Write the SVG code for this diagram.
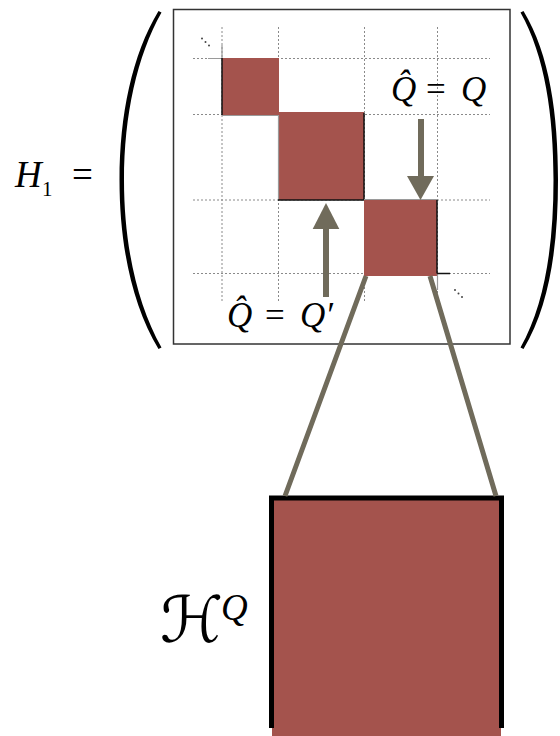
<svg xmlns="http://www.w3.org/2000/svg" width="560" height="736" viewBox="0 0 560 736">
<style>
.grid{stroke:#8a8a8a;stroke-width:1;stroke-dasharray:2,2;fill:none}
.blk{fill:#a4534d}
.edge{stroke:#111;stroke-width:1.5;fill:none}
.gedge{stroke:#9a9a9a;stroke-width:1.2;fill:none}
.conn{stroke:#706b5b;stroke-width:5;fill:none}
.ahead{fill:#706b5b}
.math{font-family:"Liberation Serif","Times New Roman",serif;font-style:italic;fill:#000}
.rm{font-family:"Liberation Serif","Times New Roman",serif;font-style:normal;fill:#000}
.paren{fill:#000}
.dot{fill:#444}
</style>
<rect width="560" height="736" fill="#fff"/>
<g id="H1-label">
<text class="math" x="15" y="187" font-size="37">H<tspan class="rm" x="42" y="196" font-size="21">1</tspan><tspan class="rm" x="72" y="187">=</tspan></text>
</g>
<g id="parentheses">
<path class="paren" d="M158.5,11 C132,55 119.5,115 119.5,180 C119.5,245 132,305 158.5,349 L161.5,347.5 C137,304 124,245 124,180 C124,115 137,56 161.5,12.5 Z"/>
<path class="paren" d="M520.5,12.5 C545,56 553.5,115 553.5,180 C553.5,245 545,304 520.5,347.5 L523.5,349 C550,305 558,245 558,180 C558,115 550,55 523.5,11 Z"/>
</g>
<g id="matrix">
<rect x="173.5" y="9.5" width="336.5" height="334.5" fill="none" stroke="#333" stroke-width="1.5"/>
<path class="grid" d="M222,27V302 M278.5,27V302 M364.5,27V302 M437.5,27V302 M193,58.5H490 M193,114.5H490 M193,200H490 M193,273.5H490"/>
<circle class="dot" cx="202" cy="38.5" r="1"/><circle class="dot" cx="205.5" cy="42" r="1"/><circle class="dot" cx="209" cy="45.5" r="1"/>
<circle class="dot" cx="455" cy="290" r="1"/><circle class="dot" cx="458.5" cy="293.5" r="1"/><circle class="dot" cx="462" cy="297" r="1"/>
</g>
<g id="block1">
<rect class="blk" x="222" y="58" width="57" height="57"/>
<path class="gedge" d="M222,45V58 M208,58.5H222 M222,115.5H279"/>
<path class="edge" d="M222,58V115"/>
</g>
<g id="block2">
<rect class="blk" x="279" y="112" width="85" height="88"/>
<path class="gedge" d="M278.5,115V200"/>
<path class="edge" d="M364,113V200 M278,200H364"/>
</g>
<g id="block3">
<rect class="blk" x="364" y="200" width="73" height="76"/>
<path class="gedge" d="M364,199.5H437 M437.5,273V290"/>
<path class="edge" d="M437,200V273.5 M437,273.5H450"/>
</g>
<g id="label-QQ">
<text class="math" x="391" y="101" font-size="35">Q̂<tspan class="rm" x="426">=</tspan><tspan x="461">Q</tspan></text>
</g>
<g id="label-QQprime">
<text class="math" x="227" y="327" font-size="35">Q̂<tspan class="rm" x="265">=</tspan><tspan x="300">Q′</tspan></text>
</g>
<g id="big-block">
<rect class="blk" x="272" y="497" width="229" height="239"/>
<path d="M271.5,728V498H501.5V728" fill="none" stroke="#000" stroke-width="5"/>
</g>
<g id="HQ-label">
<text x="160" y="642" font-size="64" font-family="'DejaVu Serif','DejaVu Sans',serif" font-style="italic">ℋ<tspan font-family="'Liberation Serif',serif" font-size="37" x="221" y="620">Q</tspan></text>
</g>
<g id="connectors">
<rect class="ahead" x="418" y="119" width="6" height="58"/>
<polygon class="ahead" points="407,176 434,176 420.5,200"/>
<rect class="ahead" x="323" y="228" width="6" height="69"/>
<polygon class="ahead" points="312.7,229 339.3,229 326,203"/>
<path class="conn" d="M366,276L285,496 M430,276L496,496"/>
</g>
</svg>
